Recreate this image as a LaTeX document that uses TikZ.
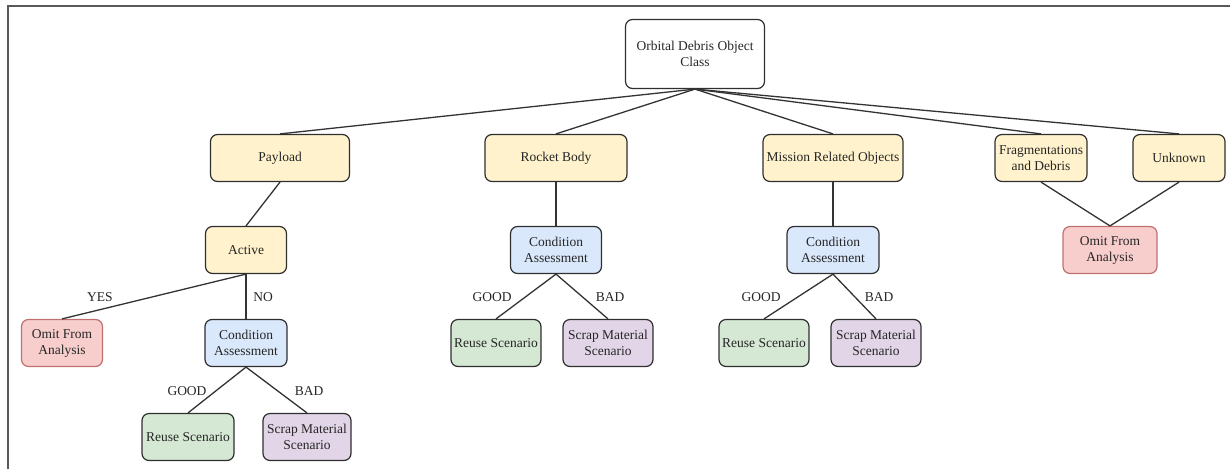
\documentclass[tikz,border=0pt]{standalone}
\usepackage{fontspec}
\setmainfont{Liberation Serif}
\definecolor{boxline}{HTML}{2F2F2F}
\definecolor{omitline}{HTML}{C07070}
\definecolor{clsfill}{HTML}{FFF2CC}
\definecolor{chkfill}{HTML}{DAE8FC}
\definecolor{reusefill}{HTML}{D5E8D4}
\definecolor{scrapfill}{HTML}{E1D5E7}
\definecolor{omitfill}{HTML}{F8CECC}
\definecolor{wire}{HTML}{333333}
\begin{document}
\begin{tikzpicture}[x=1pt,y=-1pt,
  box/.style={draw=boxline, rounded corners=7pt, line width=1.2pt, align=center,
    inner sep=1pt, minimum height=47pt, text=black!85,
    font=\fontsize{13.5}{16}\selectfont},
  cls/.style={box, fill=clsfill},
  chk/.style={box, fill=chkfill},
  reuse/.style={box, fill=reusefill},
  scrap/.style={box, fill=scrapfill},
  omit/.style={box, draw=omitline, fill=omitfill},
  lbl/.style={font=\fontsize{13.5}{16}\selectfont, text=black!85},
  wire/.style={draw=wire, line width=1.3pt}]
\useasboundingbox (0,0) rectangle (1230,469);
\draw[line width=1.5pt, black!65] (8,469) -- (8,6) -- (1230,6);

\node[box, minimum width=139pt, minimum height=69pt] (root) at (695,54) {Orbital Debris Object\\Class};
\node[cls, minimum width=139pt] (payload) at (280,158) {Payload};
\node[cls, minimum width=142pt] (rocket) at (556,158) {Rocket Body};
\node[cls, minimum width=140pt] (mission) at (833,158) {Mission Related Objects};
\node[cls, minimum width=92pt] (frag) at (1041,158) {Fragmentations\\and Debris};
\node[cls, minimum width=92pt] (unknown) at (1179,158) {Unknown};
\draw[wire](root.south) -- (payload.north);
\draw[wire](root.south) -- (rocket.north);
\draw[wire](root.south) -- (mission.north);
\draw[wire](root.south) -- (frag.north);
\draw[wire](root.south) -- (unknown.north);

% payload branch
\node[cls, minimum width=81pt] (active) at (246,250) {Active};
\node[omit, minimum width=81pt] (omit1) at (62,343) {Omit From\\Analysis};
\node[chk, minimum width=82pt] (chk1) at (246,343) {Condition\\Assessment};
\node[reuse, minimum width=92pt] (reuse1) at (188,437) {Reuse Scenario};
\node[scrap, minimum width=88pt] (scrap1) at (307,437) {Scrap Material\\Scenario};
\draw[wire](payload.south) -- (active.north);
\draw[wire](active.south) -- (omit1.north);
\draw[wire](active.south) -- (chk1.north);
\draw[wire](chk1.south) -- (reuse1.north);
\draw[wire](chk1.south) -- (scrap1.north);
\node[lbl] (yes1) at (100,297) {YES};
\node[lbl] (no1) at (263,297) {NO};
\node[lbl] (good1) at (187,391) {GOOD};
\node[lbl] (bad1) at (309,391) {BAD};

% rocket body branch
\node[chk, minimum width=91pt] (chk2) at (556,250) {Condition\\Assessment};
\node[reuse, minimum width=90pt] (reuse2) at (496,343) {Reuse Scenario};
\node[scrap, minimum width=90pt] (scrap2) at (608,343) {Scrap Material\\Scenario};
\draw[wire](rocket.south) -- (chk2.north);
\draw[wire](chk2.south) -- (reuse2.north);
\draw[wire](chk2.south) -- (scrap2.north);
\node[lbl] (good2) at (492,297) {GOOD};
\node[lbl] (bad2) at (610,297) {BAD};

% mission related branch
\node[chk, minimum width=92pt] (chk3) at (833,250) {Condition\\Assessment};
\node[reuse, minimum width=90pt] (reuse3) at (764,343) {Reuse Scenario};
\node[scrap, minimum width=90pt] (scrap3) at (876,343) {Scrap Material\\Scenario};
\draw[wire](mission.south) -- (chk3.north);
\draw[wire](chk3.south) -- (reuse3.north);
\draw[wire](chk3.south) -- (scrap3.north);
\node[lbl] (good3) at (761,297) {GOOD};
\node[lbl] (bad3) at (879,297) {BAD};

% fragments and unknown
\node[omit, minimum width=94pt] (omit2) at (1110,250) {Omit From\\Analysis};
\draw[wire](frag.south) -- (omit2.north);
\draw[wire](unknown.south) -- (omit2.north);
\end{tikzpicture}
\end{document}
